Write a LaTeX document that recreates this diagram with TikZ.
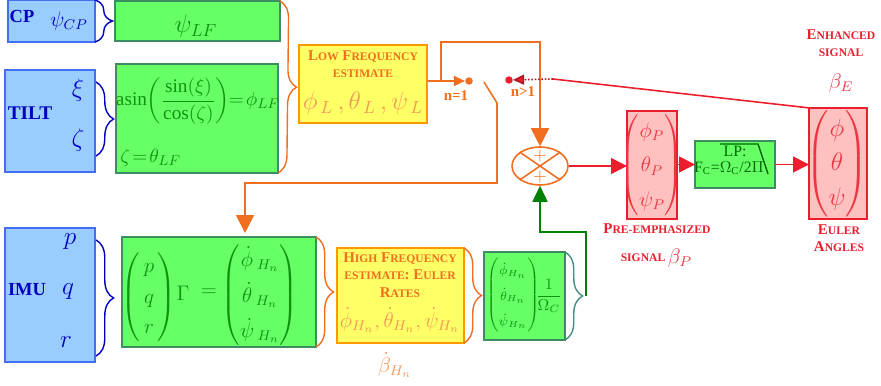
\documentclass[tikz,border=0pt]{standalone}
\usepackage{amsmath}
\usepackage{fontspec}
\setmainfont{Liberation Serif}
\usetikzlibrary{arrows.meta,shapes.geometric,decorations.pathreplacing}
\definecolor{sky}{RGB}{153,204,255}
\definecolor{skyline}{RGB}{70,110,240}
\definecolor{navy}{RGB}{0,0,190}
\definecolor{mint}{RGB}{102,255,102}
\definecolor{mintline}{RGB}{60,140,100}
\definecolor{forest}{RGB}{0,128,0}
\definecolor{lemon}{RGB}{255,255,102}
\definecolor{amber}{RGB}{255,153,0}
\definecolor{tangerine}{RGB}{240,110,30}
\definecolor{peach}{RGB}{245,150,90}
\definecolor{rose}{RGB}{255,192,192}
\definecolor{brick}{RGB}{235,30,45}
\definecolor{teal}{RGB}{70,140,130}
\newcommand{\smc}[2]{#1{\fontsize{6.6}{8}\selectfont #2}}
\newcommand{\vecm}[2]{{\renewcommand{\arraystretch}{#1}\begin{pmatrix}#2\end{pmatrix}}}
\tikzset{
  blockbox/.style={draw=#1,line width=1.1pt,inner sep=0pt,outer sep=0pt,anchor=north west},
  skybox/.style={blockbox=skyline,fill=sky},
  mintbox/.style={blockbox=mintline,fill=mint},
  lemonbox/.style={blockbox=amber,fill=lemon},
  rosebox/.style={blockbox=brick,fill=rose},
  skytxt/.style={text=navy,inner sep=0pt},
  minttxt/.style={text=forest!85!mint,inner sep=0pt},
  orangetxt/.style={text=tangerine,font=\bfseries\fontsize{8.5}{10}\selectfont,inner sep=0pt,align=center},
  peachtxt/.style={text=peach,inner sep=0pt},
  redtxt/.style={text=brick,font=\bfseries\fontsize{8.5}{10}\selectfont,inner sep=0pt,align=center},
  rosetxt/.style={text=brick!90!white,inner sep=0pt},
  curly/.style={draw=#1,line width=0.8pt,decorate,decoration={brace,amplitude=10pt,aspect=0.5}},
  wire/.style={draw=#1,line width=0.9pt},
  bigtip/.style={wire=#1,-{Triangle[length=0.36cm,width=0.36cm,fill=#1]}},
  redtip/.style={wire=brick,-{Triangle[length=0.32cm,width=0.32cm,fill=brick]}},
  dotmark/.style={circle,fill=#1,inner sep=0pt,minimum size=0.15cm}
}
\begin{document}
\begin{tikzpicture}[x=0.02cm,y=-0.02cm]
  \useasboundingbox (0,0) rectangle (881,385);
  % input blocks
  \node[skybox,minimum width=1.74cm,minimum height=0.84cm] (cpbox) at (8,0) {};
  \node[skybox,minimum width=1.80cm,minimum height=2.04cm] (tiltbox) at (5,70) {};
  \node[skybox,minimum width=1.80cm,minimum height=2.68cm] (imubox) at (5,228) {};
  \node[skytxt,font=\bfseries\fontsize{10.5}{12}\selectfont] (cplabel) at (22,16) {CP};
  \node[skytxt,font=\bfseries\fontsize{11}{13}\selectfont] (tiltlabel) at (30,113) {TILT};
  \node[skytxt,font=\bfseries\fontsize{10.5}{12}\selectfont] (imulabel) at (27,290) {IMU};
  \node[skytxt,font=\large] (psicp) at (69,21) {$\psi_{CP}$};
  \foreach \n/\t/\x/\y in {xi/\xi/78/90,zeta/\zeta/78/140,p/p/70/242,q/q/68/292,r/r/66/342}
  {
    \node[skytxt,font=\Large] (\n) at (\x,\y) {$\t$};
  }
  % green blocks
  \node[mintbox,minimum width=3.30cm,minimum height=0.80cm] (psibox) at (115,1) {};
  \node[mintbox,minimum width=3.24cm,minimum height=2.18cm] (asinbox) at (116,64) {};
  \node[mintbox,minimum width=3.88cm,minimum height=2.20cm] (gammabox) at (122,237) {};
  \node[mintbox,minimum width=1.62cm,minimum height=1.76cm] (ratebox) at (484,252) {};
  \node[mintbox,minimum width=1.60cm,minimum height=0.94cm] (lpbox) at (695,141) {};
  \node[minttxt,font=\Large] (psilf) at (196,26) {$\psi_{LF}$};
  \node[minttxt,font=\fontsize{10.95}{13}\selectfont] (asin) at (198,101) {$\mathrm{asin}\!\left(\dfrac{\sin(\xi)}{\cos(\zeta)}\right)\!\!=\!\phi_{LF}$};
  \node[minttxt,anchor=west,font=\fontsize{10.95}{13}\selectfont] (zetatheta) at (120,158) {$\zeta\!=\!\theta_{LF}$};
  \node[minttxt,font=\large] (pqrvec) at (149,297) {$\vecm{1.25}{\,p\,\\q\\r}$};
  \node[minttxt,font=\large] (gamma) at (183,293) {$\Gamma$};
  \node[minttxt,font=\large] (equals) at (209,293) {$=$};
  \node[minttxt,font=\large] (ratevec) at (260,295) {$\vecm{1.45}{\dot\phi_{\;H_{n}}\\ \dot\theta_{\;H_{n}}\\ \dot\psi_{\;H_{n}}}$};
  \node[minttxt,font=\scriptsize] (ratescale) at (513,295) {$\vecm{1.8}{\dot\phi_{H_{n}}\\ \dot\theta_{H_{n}}\\ \dot\psi_{H_{n}}}$};
  \node[minttxt,font=\small] (rategain) at (549,296) {$\dfrac{1}{\Omega_{C}}$};
  \node[text=forest!80!black,font=\fontsize{9}{11}\selectfont,inner sep=0pt] (lptxt) at (735,151) {LP:};
  \node[text=forest!80!black,font=\fontsize{9}{11}\selectfont,inner sep=0pt] (fctxt) at (729,168) {F$_{\text{C}}$=$\Omega_{\text{C}}$/2$\Pi$};
  \coordinate (lpa) at (720,144);
  \coordinate (lpb) at (758,144);
  \coordinate (lpc) at (768,174);
  \draw[forest!80!black,line width=0.8pt] (lpa) -- (lpb) -- (lpc);
  % estimates
  \node[lemonbox,minimum width=2.56cm,minimum height=1.56cm] (lowbox) at (299,45) {};
  \node[lemonbox,minimum width=2.54cm,minimum height=1.90cm] (highbox) at (337,248) {};
  \node[orangetxt] (lowtxt) at (363,64) {\smc{L}{OW} \smc{F}{REQUENCY}\\\smc{}{ESTIMATE}};
  \node[peachtxt,font=\Large] (lowmath) at (363,103) {$\phi_{\,L}\,,\theta_{\,L}\,,\psi_{\,L}$};
  \node[orangetxt] (hightxt) at (400,275) {\smc{H}{IGH} \smc{F}{REQUENCY}\\\smc{}{ESTIMATE}: \smc{E}{ULER}\\\smc{R}{ATES}};
  \node[peachtxt,font=\large] (highmath) at (400,320) {$\dot\phi_{H_{n}},\dot\theta_{H_{n}},\dot\psi_{H_{n}}$};
  \node[peachtxt,font=\large] (betahn) at (395,365) {$\dot\beta_{H_{n}}$};
  % output blocks
  \node[rosebox,minimum width=1.00cm,minimum height=2.16cm] (prebox) at (627,111) {};
  \node[rosebox,minimum width=1.16cm,minimum height=2.22cm] (eulerbox) at (809,108) {};
  \node[rosetxt,font=\large] (prevec) at (652,165) {$\vecm{1.4}{\phi_{P}\\ \theta_{P}\\ \psi_{P}}$};
  \node[rosetxt,font=\Large] (eulervec) at (837,164) {$\vecm{1.1}{\phi\\ \theta\\ \psi}$};
  \node[redtxt] (enhtxt) at (841,43) {\smc{E}{NHANCED}\\\smc{}{SIGNAL}};
  \node[rosetxt,font=\large] (betae) at (841,83) {$\beta_{E}$};
  \node[redtxt] (pretxt) at (657,229) {\smc{P}{RE-EMPHASIZED}};
  \node[redtxt] (sigtxt) at (643,258) {\smc{}{SIGNAL}};
  \node[rosetxt,font=\large] (betap) at (680,258) {$\beta_{P}$};
  \node[redtxt] (eultxt) at (839,238) {\smc{E}{ULER}\\\smc{A}{NGLES}};
  % braces
  \draw[curly=navy] (cpbox.north east) -- (cpbox.south east);
  \coordinate (tilta) at (96,82);
  \coordinate (tiltb) at (96,156);
  \draw[curly=navy] (tilta) -- (tiltb);
  \coordinate (imua) at (96,240);
  \coordinate (imub) at (96,356);
  \draw[curly=navy] (imua) -- (imub);
  \draw[curly=tangerine] (psibox.north east) -- (asinbox.south east);
  \draw[curly=tangerine] (gammabox.north east) -- (gammabox.south east);
  \draw[curly=tangerine] (highbox.north east) -- (highbox.south east);
  \draw[curly=teal] (ratebox.north east) -- (ratebox.south east);
  % switch
  \node[dotmark=tangerine] (dota) at (469,81) {};
  \node[dotmark=brick] (dotb) at (509,80) {};
  \node[orangetxt] (none) at (456,96) {n=1};
  \node[orangetxt] (ngt) at (523,92) {n>1};
  \coordinate (swa) at (484,82);
  \coordinate (swb) at (497,103);
  \coordinate (swc) at (497,183);
  \coordinate (lowa) at (441,81);
  \coordinate (lowb) at (441,42);
  \coordinate (lowc) at (540,42);
  \coordinate (gammatop) at (245,233);
  \node[draw=tangerine,line width=0.9pt,ellipse,minimum width=1.12cm,minimum height=0.76cm,inner sep=0pt] (sum) at (540,166) {};
  \draw[tangerine,line width=0.9pt] (sum.north west) -- (sum.south east);
  \draw[tangerine,line width=0.9pt] (sum.north east) -- (sum.south west);
  \node[text=tangerine,inner sep=0pt] (plusa) at (540,156) {$+$};
  \node[text=tangerine,inner sep=0pt] (plusb) at (540,177) {$+$};
  % connectors
  \draw[wire=tangerine,-{Triangle[length=0.22cm,width=0.2cm,fill=tangerine]}] (lowbox.east |- dota) -- (dota);
  \draw[bigtip=tangerine] (lowa) -- (lowb) -- (lowc) -- (sum.north);
  \draw[bigtip=tangerine] (swa) -- (swb) -- (swc) -| (gammatop);
  \coordinate (dotc) at (553,79);
  \coordinate (eulerin) at (810,108);
  \draw[wire=brick] (eulerin) -- (dotc);
  \draw[brick!75!black,line width=0.9pt,densely dotted,-{Triangle[length=0.22cm,width=0.2cm,fill=brick]}] (dotc) -- (dotb);
  \coordinate (ratetip) at (586,296);
  \coordinate (ratec) at (586,232);
  \coordinate (rated) at (540,232);
  \draw[wire=forest,-{Triangle[length=0.32cm,width=0.3cm,fill=forest]}] (ratetip) -- (ratec) -- (rated) -- (sum.south);
  \draw[redtip] (sum.east) -- (sum.east -| prebox.west);
  \draw[redtip] (prebox.east |- lpbox.west) -- (lpbox.west);
  \draw[redtip] (lpbox.east) -- (lpbox.east -| eulerbox.west);
\end{tikzpicture}
\end{document}
